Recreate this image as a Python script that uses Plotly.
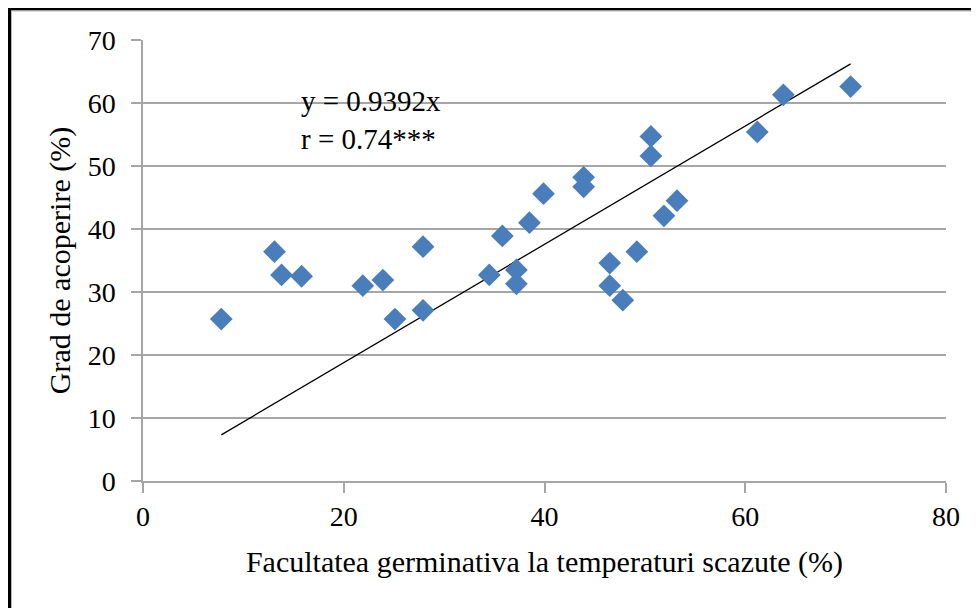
import plotly.graph_objects as go

# Data
germ = [7.8, 13.1, 13.8, 15.8, 21.9, 23.9, 25.1, 27.9, 27.9, 34.5, 35.8, 37.2, 37.2,
        38.5, 39.9, 43.9, 43.9, 46.5, 46.5, 47.8, 49.2, 50.6, 50.6, 51.9, 53.2,
        61.2, 63.8, 70.5]
cover = [25.7, 36.4, 32.7, 32.5, 31.0, 31.9, 25.7, 37.2, 27.1, 32.7, 38.9, 33.5, 31.3,
         41.0, 45.6, 48.2, 46.7, 34.6, 31.0, 28.7, 36.4, 54.7, 51.6, 42.1, 44.5,
         55.4, 61.3, 62.6]
slope = 0.9392
eq_text = "y = 0.9392x<br>r = 0.74***"
x_title = "Facultatea germinativa la temperaturi scazute (%)"
y_title = "Grad de acoperire (%)"
x_ticks = [0, 20, 40, 60, 80]
y_ticks = [0, 10, 20, 30, 40, 50, 60, 70]

FONT = "Liberation Serif"
GRID = "#a6a6a6"

trend_x = [min(germ), max(germ)]
trend_y = [slope * v for v in trend_x]

fig = go.Figure()
fig.add_trace(go.Scatter(x=trend_x, y=trend_y, mode="lines",
                         line=dict(color="black", width=1.3), showlegend=False,
                         hoverinfo="skip"))
fig.add_trace(go.Scatter(x=germ, y=cover, mode="markers",
                         marker=dict(symbol="diamond", size=17.5, color="#4a7ebb",
                                     line=dict(width=0)),
                         showlegend=False))

fig.add_annotation(x=15.5, y=57.3, xref="x", yref="y", text=eq_text, showarrow=False,
                   xanchor="left", yanchor="middle", align="left",
                   font=dict(family=FONT, size=29, color="black"))

# page body has an 8px margin, so the figure is 8px smaller than the window
W, H = 971, 600
L, T = 135, 32
PW, PH = 803, 441
R, B = W - L - PW, H - T - PH

def px(xp):
    return (xp - L) / PW
def py(yp):
    return (T + PH - yp) / PH

# outer frame (black left and top border with light inner line)
fig.add_shape(type="path", xref="paper", yref="paper",
              path=f"M {px(1.5)} {py(H)} L {px(1.5)} {py(1)} L {px(W)} {py(1)}",
              line=dict(color="black", width=3))
fig.add_shape(type="path", xref="paper", yref="paper",
              path=f"M {px(3.5)} {py(H)} L {px(3.5)} {py(3)} L {px(W)} {py(3)}",
              line=dict(color="#b8b8b8", width=1))

fig.update_layout(
    width=W, height=H,
    margin=dict(l=L, r=R, t=T, b=B),
    paper_bgcolor="white", plot_bgcolor="white",
    font=dict(family=FONT, size=28, color="black"),
    xaxis=dict(range=[0, 80], tickvals=x_ticks, showgrid=False, zeroline=False,
               showline=True, linecolor=GRID, linewidth=1.5,
               ticks="outside", ticklen=10, tickcolor=GRID, tickwidth=1.5,
               tickfont=dict(family=FONT, size=28), ticklabelstandoff=0,
               title=dict(text=x_title, font=dict(family=FONT, size=30), standoff=20)),
    yaxis=dict(range=[0, 70], tickvals=y_ticks, showgrid=True, gridcolor=GRID,
               gridwidth=1.5, zeroline=False,
               showline=True, linecolor=GRID, linewidth=1.5,
               ticks="outside", ticklen=10, tickcolor=GRID, tickwidth=1.5,
               tickfont=dict(family=FONT, size=28), ticklabelstandoff=10,
               title=dict(text=y_title, font=dict(family=FONT, size=30), standoff=8)),
)

fig.write_html("out.html")
